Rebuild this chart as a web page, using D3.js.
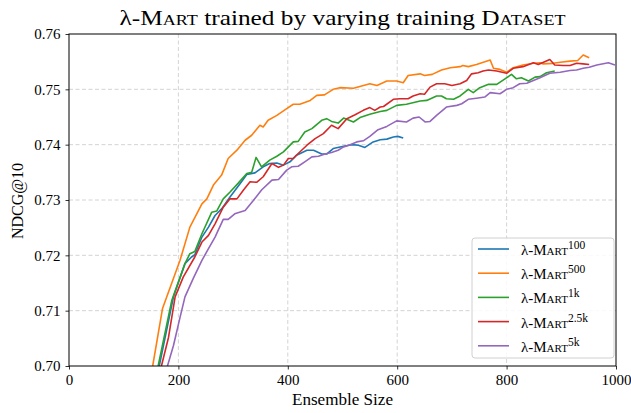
<!DOCTYPE html>
<html>
<head>
<meta charset="utf-8">
<style>
  body { margin: 0; background: #fff; }
  svg { font-family: "Liberation Serif", "DejaVu Serif", serif; }
  .sc { font-variant: small-caps; }
</style>
</head>
<body>
<svg width="631" height="413"></svg>
<script src="https://d3js.org/d3.v7.min.js"></script>
<script>

    // ensemble sizes and NDCG@10 values, one pair of arrays per run
    var size100 = [165,191,212,224,230,243,255,267,279,294,313,325,340,355,367,380,392,404,416,435,447,462,471,483,502,517,529,541,556,569,581,593,601,611];
    var ndcg100 = [0.700,0.7125,0.7185,0.7197,0.7201,0.7233,0.7251,0.7272,0.7284,0.7305,0.7330,0.7346,0.7349,0.7360,0.7366,0.7367,0.7363,0.7369,0.7381,0.7390,0.7390,0.7383,0.7383,0.7393,0.7397,0.7400,0.7399,0.7395,0.7405,0.7409,0.7410,0.7414,0.7415,0.7412];

    var size500 = [153,171,203,221,243,252,264,279,291,307,322,334,349,355,364,380,398,410,422,441,453,467,483,495,520,550,563,581,599,611,620,642,650,664,681,697,715,720,730,745,770,776,788,800,812,830,849,861,867,885,898,916,930,940,951];
    var ndcg500 = [0.700,0.7104,0.7191,0.7251,0.7293,0.7302,0.7327,0.7345,0.7375,0.7390,0.7408,0.7417,0.7435,0.7432,0.7444,0.7453,0.7465,0.7473,0.7473,0.7480,0.7489,0.7490,0.7500,0.7503,0.7502,0.7510,0.7507,0.7515,0.7515,0.7512,0.7525,0.7528,0.7525,0.7527,0.7535,0.7539,0.7541,0.7543,0.7541,0.7545,0.7553,0.7538,0.7536,0.7531,0.7539,0.7544,0.7547,0.7548,0.7546,0.7547,0.7549,0.7551,0.7552,0.7562,0.7557];

    var size1k = [163,188,212,221,230,243,261,270,282,294,309,325,334,342,352,367,380,392,410,419,431,444,462,471,480,492,502,510,520,532,550,569,581,599,617,642,654,672,681,690,703,715,730,739,751,767,782,797,809,818,827,840,852,861,873,888];
    var ndcg1k = [0.700,0.7119,0.7185,0.7203,0.7207,0.7239,0.7278,0.7280,0.7302,0.7314,0.7330,0.7348,0.7350,0.7377,0.7360,0.7372,0.7379,0.7387,0.7405,0.7406,0.7423,0.7429,0.7444,0.7447,0.7442,0.7439,0.7448,0.7445,0.7441,0.7449,0.7455,0.7460,0.7462,0.7471,0.7473,0.7479,0.7480,0.7488,0.7488,0.7483,0.7482,0.7488,0.7500,0.7494,0.7503,0.7509,0.7509,0.7519,0.7527,0.7519,0.7521,0.7515,0.7522,0.7523,0.7530,0.7533];

    var size2k5 = [169,182,194,209,230,243,255,267,282,294,307,319,331,343,355,371,383,392,401,410,419,435,450,465,480,492,508,523,538,550,559,569,575,593,605,620,629,642,650,660,672,687,700,715,727,736,748,757,767,782,800,812,830,849,858,879,888,903,916,928,940,951];
    var ndcg2k5 = [0.700,0.7052,0.7125,0.7161,0.7197,0.7224,0.7236,0.7257,0.7287,0.7302,0.7302,0.7318,0.7333,0.7332,0.7342,0.7366,0.7359,0.7363,0.7375,0.7375,0.7384,0.7399,0.7411,0.7420,0.7435,0.7429,0.7447,0.7454,0.7462,0.7467,0.7462,0.7468,0.7469,0.7482,0.7483,0.7483,0.7488,0.7492,0.7491,0.7504,0.7510,0.7510,0.7507,0.7510,0.7516,0.7528,0.7530,0.7533,0.7535,0.7533,0.7529,0.7538,0.7541,0.7548,0.7545,0.7554,0.7544,0.7543,0.7543,0.7547,0.7546,0.7545];

    var size5k = [180,191,203,212,227,243,255,267,282,291,303,322,337,352,371,383,398,407,419,431,444,456,468,480,492,502,514,526,538,550,565,581,599,617,629,640,651,660,672,690,709,718,730,745,760,770,788,800,812,824,837,849,861,879,898,916,928,940,951,965,986,998];
    var ndcg5k = [0.700,0.7037,0.7088,0.7125,0.7158,0.7191,0.7212,0.7233,0.7265,0.7265,0.7275,0.7281,0.7299,0.7318,0.7336,0.7337,0.7354,0.7360,0.7361,0.7369,0.7378,0.7379,0.7383,0.7386,0.7390,0.7396,0.7400,0.7405,0.7407,0.7415,0.7427,0.7433,0.7443,0.7441,0.7448,0.7450,0.7441,0.7442,0.7453,0.7468,0.7471,0.7474,0.7482,0.7484,0.7486,0.7494,0.7492,0.7500,0.7503,0.7510,0.7511,0.7516,0.7521,0.7529,0.7531,0.7534,0.7535,0.7538,0.7540,0.7544,0.7548,0.7544];

    var seriesNames = ["100", "500", "1k", "2.5k", "5k"];
    var seriesColors = ["#1f77b4", "#ff7f0e", "#2ca02c", "#d62728", "#9467bd"];
    var xTicks = [0, 200, 400, 600, 800, 1000];
    var yTicks = [0.70, 0.71, 0.72, 0.73, 0.74, 0.75, 0.76];

    var sizes = [size100, size500, size1k, size2k5, size5k];
    var values = [ndcg100, ndcg500, ndcg1k, ndcg2k5, ndcg5k];
    var series = seriesNames.map(function(name, i) {
        return {
            name: name,
            color: seriesColors[i],
            points: sizes[i].map(function(s, j) { return [s, values[i][j]]; })
        };
    });

    var svg = d3.select("svg"),
        margin = {top: 34, right: 15, bottom: 47, left: 69},
        width = +svg.attr("width") - margin.left - margin.right,
        height = +svg.attr("height") - margin.top - margin.bottom;

    var x = d3.scaleLinear().domain([0, 1000]).range([0, width]);
    var y = d3.scaleLinear().domain([0.70, 0.76]).range([height, 0]);

    var g = svg.append("g")
        .attr("transform", "translate(" + margin.left + "," + margin.top + ")");

    g.append("clipPath").attr("id", "plot-clip")
        .append("rect").attr("width", width).attr("height", height);

    // dashed grid
    g.append("g").selectAll("line")
        .data(xTicks.slice(1, -1))
        .enter().append("line")
        .attr("x1", function(d) { return x(d); })
        .attr("x2", function(d) { return x(d); })
        .attr("y1", 0).attr("y2", height)
        .attr("stroke", "#cfcfcf").attr("stroke-width", 0.9)
        .attr("stroke-dasharray", "4,2.5");

    g.append("g").selectAll("line")
        .data(yTicks.slice(1, -1))
        .enter().append("line")
        .attr("y1", function(d) { return y(d); })
        .attr("y2", function(d) { return y(d); })
        .attr("x1", 0).attr("x2", width)
        .attr("stroke", "#cfcfcf").attr("stroke-width", 0.9)
        .attr("stroke-dasharray", "4,2.5");

    var line = d3.line()
        .x(function(d) { return x(d[0]); })
        .y(function(d) { return y(d[1]); });

    g.append("g").attr("clip-path", "url(#plot-clip)")
        .selectAll("path")
        .data(series)
        .enter().append("path")
        .attr("d", function(d) { return line(d.points); })
        .attr("fill", "none")
        .attr("stroke", function(d) { return d.color; })
        .attr("stroke-width", 1.6)
        .attr("stroke-linejoin", "round");

    // axes
    var xAxis = g.append("g")
        .attr("transform", "translate(0," + height + ")")
        .call(d3.axisBottom(x).tickValues(xTicks).tickFormat(d3.format("d")).tickSize(3.5).tickPadding(5));
    var yAxis = g.append("g")
        .call(d3.axisLeft(y).tickValues(yTicks).tickFormat(d3.format(".2f")).tickSize(3.5).tickPadding(5));

    [xAxis, yAxis].forEach(function(a) {
        a.select(".domain").remove();
        a.selectAll("text").attr("font-family", "Liberation Serif").attr("font-size", 15).attr("fill", "#000");
        a.selectAll("line").attr("stroke", "#000").attr("stroke-width", 0.8);
    });

    g.append("rect")
        .attr("width", width).attr("height", height)
        .attr("fill", "none").attr("stroke", "#000").attr("stroke-width", 1);

    // labels
    svg.append("text")
        .attr("x", margin.left + width / 2).attr("y", 405)
        .attr("text-anchor", "middle").attr("font-size", 16)
        .attr("textLength", 101).attr("lengthAdjust", "spacingAndGlyphs")
        .text("Ensemble Size");

    svg.append("text")
        .attr("transform", "translate(23," + 201 + ") rotate(-90)")
        .attr("text-anchor", "middle").attr("font-size", 16)
        .attr("textLength", 76).attr("lengthAdjust", "spacingAndGlyphs")
        .text("NDCG@10");

    var title = svg.append("text")
        .attr("x", margin.left + width / 2).attr("y", 25)
        .attr("text-anchor", "middle").attr("font-size", 21)
        .attr("textLength", 446).attr("lengthAdjust", "spacingAndGlyphs");
    title.append("tspan").text("λ-");
    title.append("tspan").attr("class", "sc").text("Mart");
    title.append("tspan").text(" trained by varying training ");
    title.append("tspan").attr("class", "sc").text("Dataset");

    // legend
    var legend = svg.append("g").attr("transform", "translate(472,238)");
    legend.append("rect")
        .attr("width", 142).attr("height", 120).attr("rx", 3)
        .attr("fill", "#fff").attr("fill-opacity", 0.85)
        .attr("stroke", "#d0d0d0").attr("stroke-width", 1);

    var item = legend.selectAll(".item")
        .data(series)
        .enter().append("g")
        .attr("transform", function(d, i) { return "translate(0," + (11 + i * 24.2) + ")"; });

    item.append("line")
        .attr("x1", 6).attr("x2", 37)
        .attr("stroke", function(d) { return d.color; })
        .attr("stroke-width", 1.6);

    var label = item.append("text")
        .attr("x", 49).attr("y", 6).attr("font-size", 15);
    label.append("tspan").text("λ-");
    label.append("tspan").attr("class", "sc").text("Mart");
    label.append("tspan").attr("dy", -6).attr("font-size", 11.5).text(function(d) { return d.name; });

</script>
</body>
</html>
